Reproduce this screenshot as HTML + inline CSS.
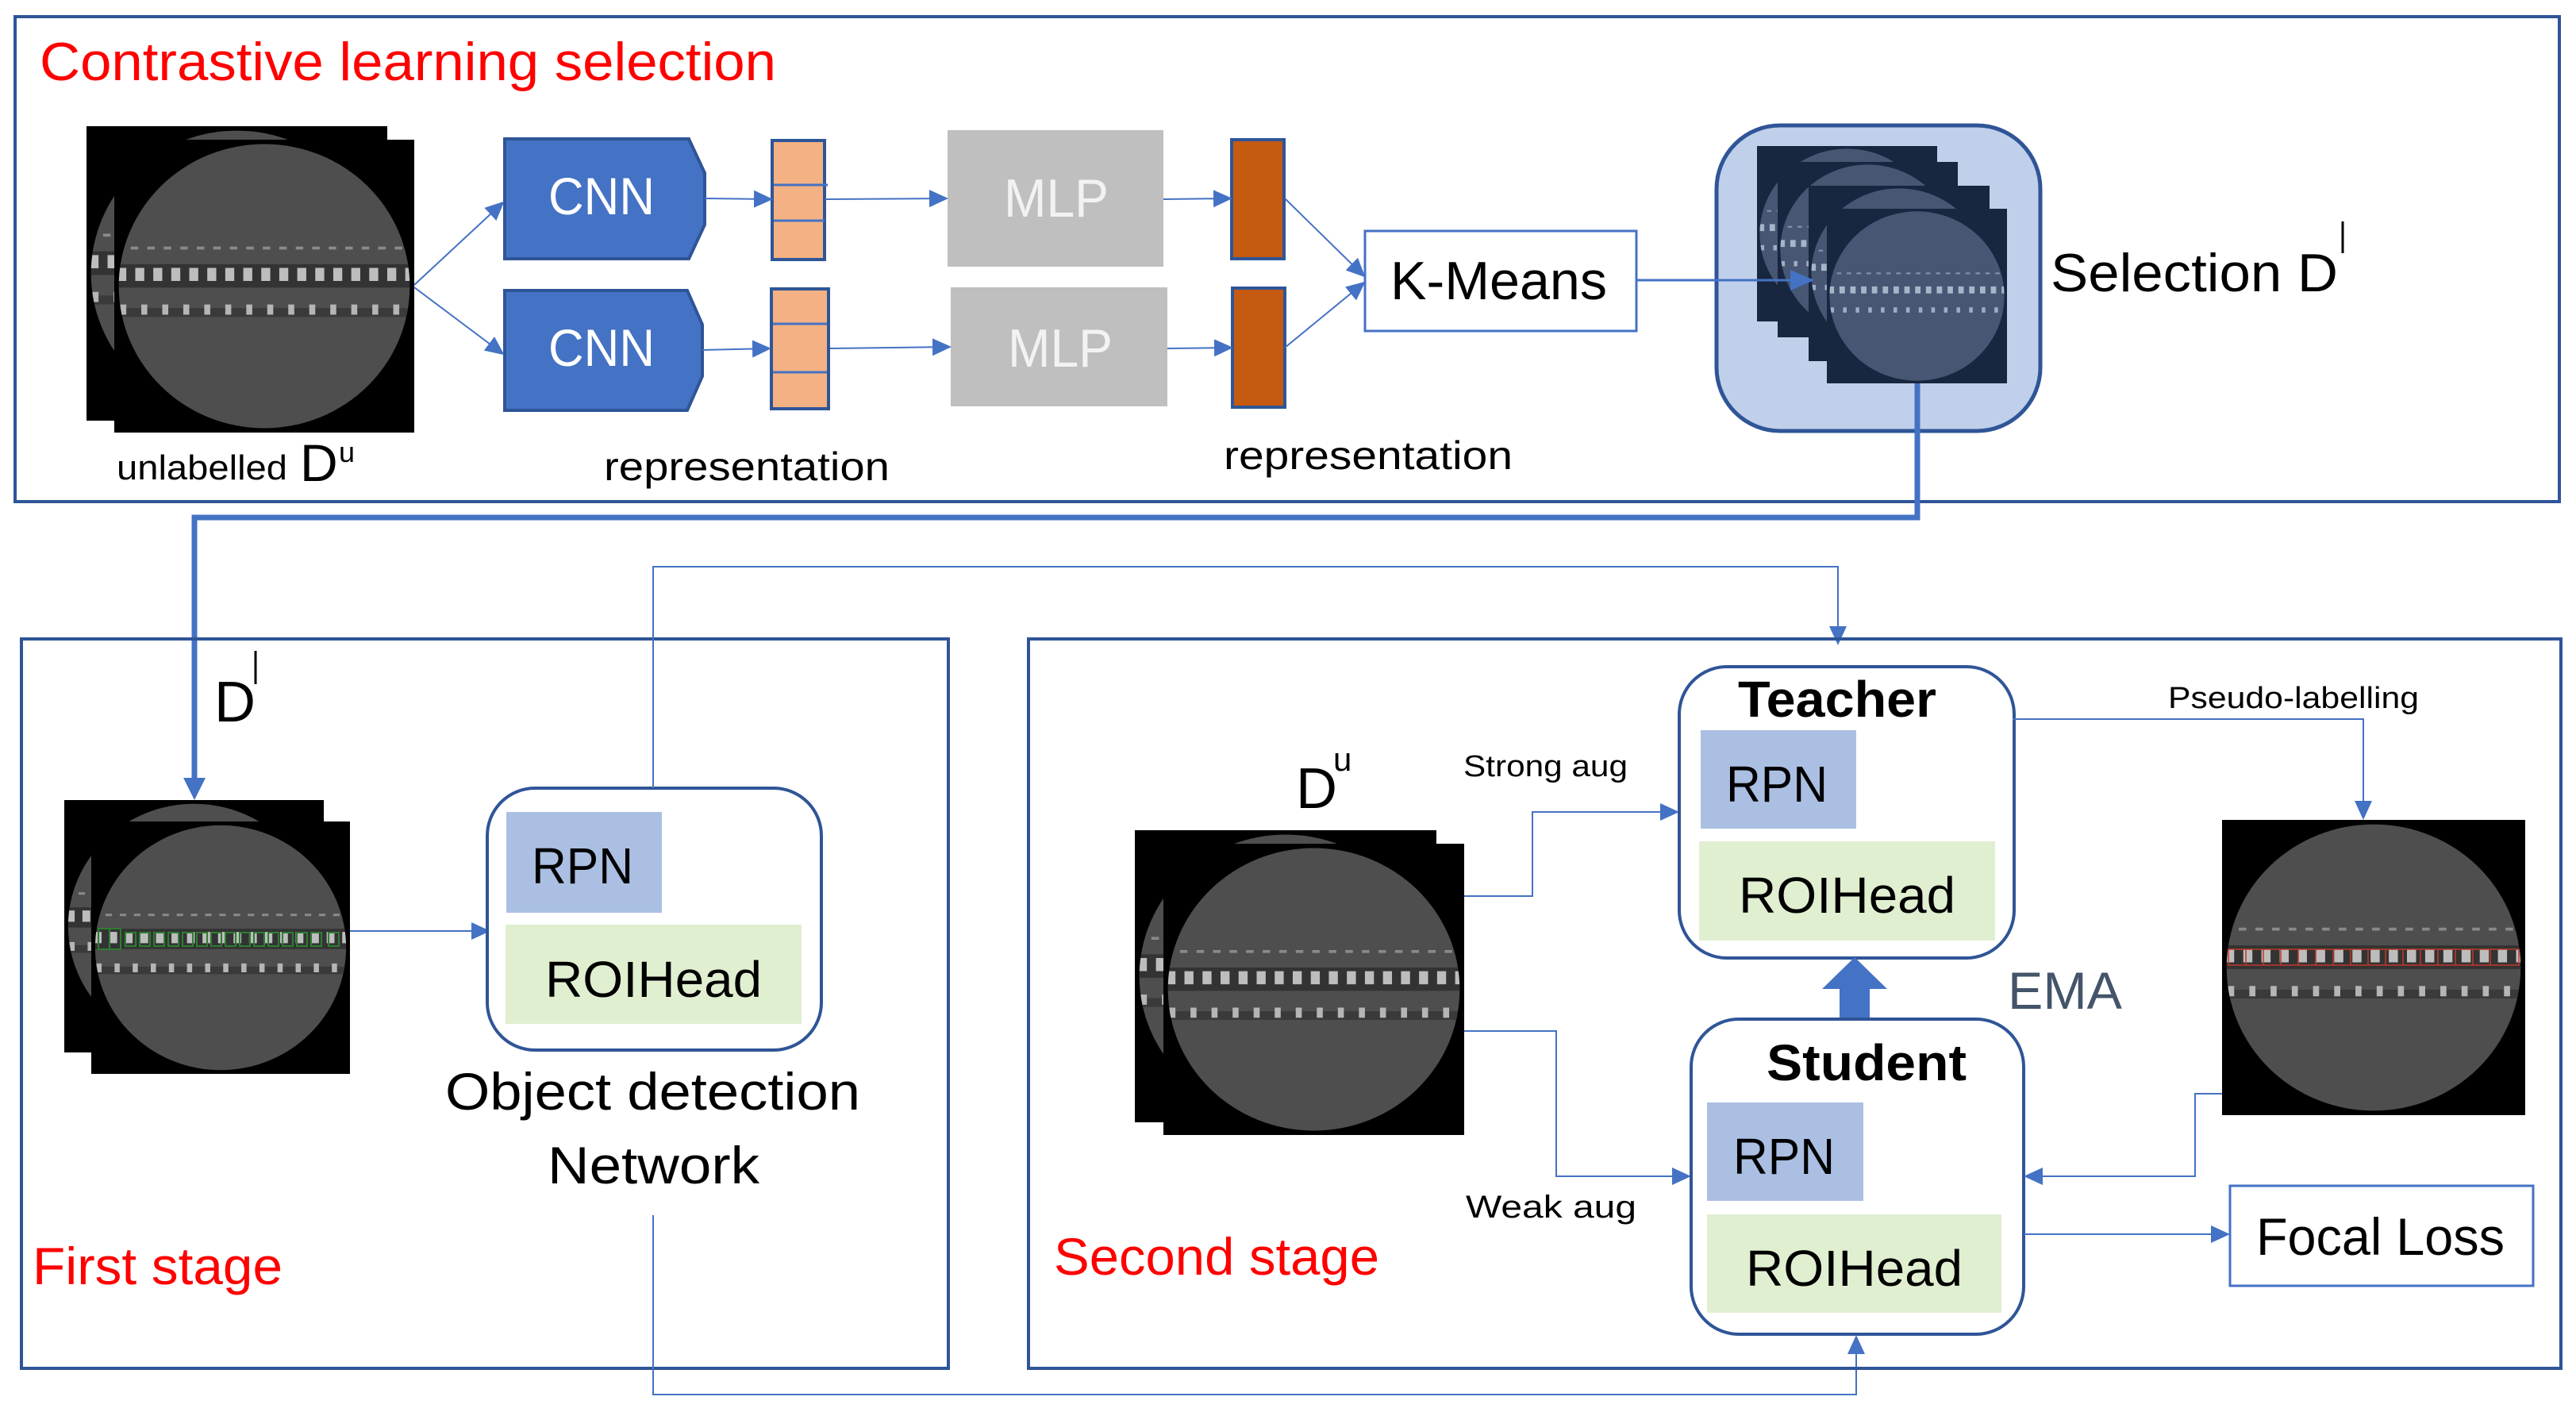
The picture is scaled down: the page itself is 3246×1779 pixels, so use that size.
<!DOCTYPE html>
<html><head><meta charset="utf-8"><style>
html,body{margin:0;padding:0;background:#fff;}
svg{display:block;}
text{font-family:"Liberation Sans",sans-serif;}
</style></head><body>
<svg width="3246" height="1779" viewBox="0 0 3246 1779" xmlns="http://www.w3.org/2000/svg">
<defs>
<marker id="ah" markerUnits="userSpaceOnUse" markerWidth="24" markerHeight="24" refX="22" refY="12" orient="auto" viewBox="0 0 24 24"><path d="M0,1 L24,12 L0,23 Z" fill="#4472c4"/></marker>
<marker id="ahb" markerUnits="userSpaceOnUse" markerWidth="30" markerHeight="30" refX="28" refY="15" orient="auto" viewBox="0 0 30 30"><path d="M0,2 L30,15 L0,28 Z" fill="#4472c4"/></marker>
<clipPath id="cc"><circle cx="50" cy="50" r="48.5"/></clipPath>
<symbol id="ct" viewBox="0 0 100 100" preserveAspectRatio="none">
<rect width="100" height="100" fill="#000"/>
<circle cx="50" cy="50" r="48.5" fill="#4e4e4e"/>
<g clip-path="url(#cc)">
<line x1="0" y1="37" x2="100" y2="37" stroke="#8a8a8a" stroke-width="1" stroke-dasharray="2.5 3"/>
<line x1="0" y1="46.5" x2="100" y2="46.5" stroke="#333" stroke-width="8"/>
<line x1="1" y1="46" x2="100" y2="46" stroke="#bdbdbd" stroke-width="4.5" stroke-dasharray="3 3"/>
<line x1="0" y1="59" x2="100" y2="59" stroke="#3a3a3a" stroke-width="3"/>
<line x1="2" y1="58" x2="100" y2="58" stroke="#b5b5b5" stroke-width="3.5" stroke-dasharray="2 5"/>
</g>
</symbol>
<symbol id="ctn" viewBox="0 0 100 100" preserveAspectRatio="none">
<rect width="100" height="100" fill="#18273f"/>
<circle cx="50" cy="50" r="48.5" fill="#465673"/>
<g clip-path="url(#cc)">
<line x1="0" y1="37" x2="100" y2="37" stroke="#8090aa" stroke-width="1" stroke-dasharray="2.5 3"/>
<line x1="1" y1="46.5" x2="100" y2="46.5" stroke="#a8b4c8" stroke-width="4" stroke-dasharray="3 3"/>
<line x1="2" y1="58" x2="100" y2="58" stroke="#a0acc2" stroke-width="3" stroke-dasharray="2 5"/>
</g>
</symbol>
</defs>

<rect x="19" y="21" width="3206" height="611" fill="none" stroke="#2f5597" stroke-width="4"/>
<text x="50" y="101" font-size="68" fill="#ff0000" textLength="928" lengthAdjust="spacingAndGlyphs">Contrastive learning selection</text>

<use href="#ct" x="109" y="159" width="379" height="371"/>
<use href="#ct" x="144" y="176" width="378" height="369"/>
<text x="147" y="604" font-size="44" fill="#000" textLength="215" lengthAdjust="spacingAndGlyphs">unlabelled</text>
<text x="378" y="606" font-size="66" fill="#000">D</text>
<text x="427" y="582" font-size="36" fill="#000">u</text>

<path d="M636,175 L868,175 L888,218 L888,283 L868,326 L636,326 Z" fill="#4472c4" stroke="#2f5597" stroke-width="4"/>
<path d="M636,366 L866,366 L885,409 L885,474 L866,517 L636,517 Z" fill="#4472c4" stroke="#2f5597" stroke-width="4"/>
<text x="691" y="270" font-size="66" fill="#fff" textLength="134" lengthAdjust="spacingAndGlyphs">CNN</text>
<text x="691" y="461" font-size="66" fill="#fff" textLength="134" lengthAdjust="spacingAndGlyphs">CNN</text>

<rect x="973" y="177" width="66" height="150" fill="#f4b183" stroke="#2f5597" stroke-width="4"/>
<line x1="975" y1="233" x2="1043" y2="233" stroke="#4472c4" stroke-width="3"/>
<line x1="975" y1="278" x2="1039" y2="278" stroke="#4472c4" stroke-width="3"/>
<rect x="972" y="364" width="72" height="151" fill="#f4b183" stroke="#2f5597" stroke-width="4"/>
<line x1="974" y1="408" x2="1042" y2="408" stroke="#4472c4" stroke-width="3"/>
<line x1="974" y1="469" x2="1042" y2="469" stroke="#4472c4" stroke-width="3"/>

<rect x="1194" y="164" width="272" height="172" fill="#bfbfbf"/>
<rect x="1198" y="362" width="273" height="150" fill="#bfbfbf"/>
<text x="1265" y="273" font-size="68" fill="#f2f2f2" textLength="132" lengthAdjust="spacingAndGlyphs">MLP</text>
<text x="1270" y="462" font-size="68" fill="#f2f2f2" textLength="132" lengthAdjust="spacingAndGlyphs">MLP</text>

<rect x="1552" y="176" width="66" height="150" fill="#c55a11" stroke="#2f5597" stroke-width="4"/>
<rect x="1553" y="363" width="66" height="150" fill="#c55a11" stroke="#2f5597" stroke-width="4"/>

<text x="761" y="605" font-size="50" fill="#000" textLength="360" lengthAdjust="spacingAndGlyphs">representation</text>
<text x="1542" y="591" font-size="50" fill="#000" textLength="364" lengthAdjust="spacingAndGlyphs">representation</text>

<g stroke="#4472c4" stroke-width="2" fill="none">
<line x1="522" y1="359" x2="634" y2="255" marker-end="url(#ah)"/>
<line x1="522" y1="362" x2="634" y2="446" marker-end="url(#ah)"/>
<line x1="888" y1="250" x2="972" y2="251" marker-end="url(#ah)"/>
<line x1="1040" y1="251" x2="1193" y2="250" marker-end="url(#ah)"/>
<line x1="1466" y1="251" x2="1551" y2="250" marker-end="url(#ah)"/>
<line x1="885" y1="441" x2="970" y2="439" marker-end="url(#ah)"/>
<line x1="1046" y1="439" x2="1197" y2="437" marker-end="url(#ah)"/>
<line x1="1471" y1="439" x2="1552" y2="438" marker-end="url(#ah)"/>
<line x1="1619" y1="250" x2="1719" y2="348" marker-end="url(#ah)"/>
<line x1="1619" y1="438" x2="1719" y2="356" marker-end="url(#ah)"/>
</g>

<rect x="1720" y="291" width="342" height="126" fill="#fff" stroke="#4472c4" stroke-width="3"/>
<text x="1752" y="377" font-size="68" fill="#000" textLength="273" lengthAdjust="spacingAndGlyphs">K-Means</text>

<rect x="2163" y="158" width="408" height="385" rx="80" fill="#c0d0ea" stroke="#2f5597" stroke-width="5"/>
<use href="#ctn" x="2214" y="184" width="227" height="221"/>
<use href="#ctn" x="2240" y="204" width="227" height="221"/>
<use href="#ctn" x="2279" y="234" width="228" height="221"/>
<use href="#ctn" x="2302" y="263" width="227" height="220"/>
<line x1="2062" y1="353" x2="2284" y2="353" stroke="#4472c4" stroke-width="3" marker-end="url(#ahb)"/>
<text x="2584" y="367" font-size="68" fill="#000" textLength="362" lengthAdjust="spacingAndGlyphs">Selection D</text>
<line x1="2952" y1="279" x2="2952" y2="319" stroke="#000" stroke-width="3"/>

<polyline points="2416,483 2416,652 245,652 245,985" fill="none" stroke="#4472c4" stroke-width="7"/>
<path d="M231,980 L259,980 L245,1008 Z" fill="#4472c4"/>

<rect x="27" y="805" width="1168" height="919" fill="none" stroke="#2f5597" stroke-width="4"/>
<text x="270" y="909" font-size="72" fill="#000">D</text>
<line x1="322" y1="820" x2="322" y2="862" stroke="#000" stroke-width="3"/>
<use href="#ct" x="81" y="1008" width="327" height="318"/>
<use href="#ct" x="115" y="1035" width="326" height="318"/>
<g fill="none" stroke="#2e7d32" stroke-width="2">
<rect x="124" y="1170" width="14" height="26"/><rect x="138" y="1170" width="14" height="26"/>
<rect x="158" y="1175" width="13" height="17"/><rect x="176" y="1175" width="13" height="17"/><rect x="194" y="1175" width="13" height="17"/><rect x="212" y="1175" width="13" height="17"/><rect x="230" y="1175" width="13" height="17"/><rect x="248" y="1175" width="13" height="17"/><rect x="266" y="1175" width="13" height="17"/><rect x="284" y="1175" width="13" height="17"/><rect x="302" y="1175" width="13" height="17"/><rect x="320" y="1175" width="13" height="17"/><rect x="338" y="1175" width="13" height="17"/><rect x="356" y="1175" width="13" height="17"/><rect x="374" y="1175" width="13" height="17"/><rect x="392" y="1175" width="13" height="17"/><rect x="414" y="1175" width="13" height="17"/>
</g>
<line x1="441" y1="1173" x2="616" y2="1173" stroke="#4472c4" stroke-width="2" marker-end="url(#ah)"/>

<rect x="614" y="993" width="421" height="330" rx="60" fill="#fff" stroke="#2f5597" stroke-width="4"/>
<rect x="638" y="1023" width="196" height="127" fill="#abbfe3"/>
<text x="670" y="1113" font-size="64" fill="#000" textLength="128" lengthAdjust="spacingAndGlyphs">RPN</text>
<rect x="637" y="1165" width="373" height="125" fill="#e0efd0"/>
<text x="687" y="1256" font-size="64" fill="#000" textLength="273" lengthAdjust="spacingAndGlyphs">ROIHead</text>
<text x="561" y="1398" font-size="66" fill="#000" textLength="523" lengthAdjust="spacingAndGlyphs">Object detection</text>
<text x="690" y="1491" font-size="66" fill="#000" textLength="267" lengthAdjust="spacingAndGlyphs">Network</text>
<text x="41" y="1618" font-size="66" fill="#ff0000" textLength="315" lengthAdjust="spacingAndGlyphs">First stage</text>

<polyline points="823,993 823,714 2316,714 2316,811" fill="none" stroke="#4472c4" stroke-width="2" marker-end="url(#ah)"/>
<polyline points="823,1531 823,1757 2339,1757 2339,1684" fill="none" stroke="#4472c4" stroke-width="2" marker-end="url(#ah)"/>

<rect x="1296" y="805" width="1931" height="919" fill="none" stroke="#2f5597" stroke-width="4"/>
<text x="1633" y="1018" font-size="72" fill="#000">D</text>
<text x="1680" y="971" font-size="42" fill="#000">u</text>
<use href="#ct" x="1430" y="1046" width="380" height="368"/>
<use href="#ct" x="1466" y="1063" width="379" height="367"/>

<text x="1844" y="978" font-size="38" fill="#000" textLength="207" lengthAdjust="spacingAndGlyphs">Strong aug</text>
<text x="1847" y="1534" font-size="40" fill="#000" textLength="215" lengthAdjust="spacingAndGlyphs">Weak  aug</text>
<polyline points="1845,1129 1931,1129 1931,1023 2114,1023" fill="none" stroke="#4472c4" stroke-width="2" marker-end="url(#ah)"/>
<polyline points="1845,1299 1961,1299 1961,1482 2129,1482" fill="none" stroke="#4472c4" stroke-width="2" marker-end="url(#ah)"/>

<rect x="2116" y="840" width="422" height="367" rx="60" fill="#fff" stroke="#2f5597" stroke-width="4"/>
<text x="2190" y="903" font-size="64" font-weight="bold" fill="#000" textLength="250" lengthAdjust="spacingAndGlyphs">Teacher</text>
<rect x="2143" y="920" width="196" height="124" fill="#abbfe3"/>
<text x="2175" y="1010" font-size="64" fill="#000" textLength="128" lengthAdjust="spacingAndGlyphs">RPN</text>
<rect x="2141" y="1060" width="373" height="125" fill="#e0efd0"/>
<text x="2191" y="1150" font-size="64" fill="#000" textLength="273" lengthAdjust="spacingAndGlyphs">ROIHead</text>

<path d="M2318,1284 L2318,1246 L2296,1246 L2337,1206 L2378,1246 L2356,1246 L2356,1284 Z" fill="#4472c4"/>
<text x="2530" y="1271" font-size="66" fill="#44546a" textLength="144" lengthAdjust="spacingAndGlyphs">EMA</text>

<rect x="2131" y="1284" width="419" height="397" rx="60" fill="#fff" stroke="#2f5597" stroke-width="4"/>
<text x="2226" y="1361" font-size="64" font-weight="bold" fill="#000" textLength="252" lengthAdjust="spacingAndGlyphs">Student</text>
<rect x="2151" y="1389" width="197" height="124" fill="#abbfe3"/>
<text x="2184" y="1479" font-size="64" fill="#000" textLength="128" lengthAdjust="spacingAndGlyphs">RPN</text>
<rect x="2151" y="1530" width="371" height="124" fill="#e0efd0"/>
<text x="2200" y="1620" font-size="64" fill="#000" textLength="273" lengthAdjust="spacingAndGlyphs">ROIHead</text>

<text x="2732" y="892" font-size="38" fill="#000" textLength="316" lengthAdjust="spacingAndGlyphs">Pseudo-labelling</text>
<polyline points="2536,906 2978,906 2978,1031" fill="none" stroke="#4472c4" stroke-width="2" marker-end="url(#ah)"/>
<use href="#ct" x="2800" y="1033" width="382" height="372"/>
<g fill="none" stroke="#c0392b" stroke-width="1.5">
<rect x="2808" y="1196" width="366" height="20"/>
<line x1="2830" y1="1196" x2="2830" y2="1216"/><line x1="2852" y1="1196" x2="2852" y2="1216"/><line x1="2874" y1="1196" x2="2874" y2="1216"/><line x1="2896" y1="1196" x2="2896" y2="1216"/><line x1="2918" y1="1196" x2="2918" y2="1216"/><line x1="2940" y1="1196" x2="2940" y2="1216"/><line x1="2962" y1="1196" x2="2962" y2="1216"/><line x1="2984" y1="1196" x2="2984" y2="1216"/><line x1="3006" y1="1196" x2="3006" y2="1216"/><line x1="3028" y1="1196" x2="3028" y2="1216"/><line x1="3050" y1="1196" x2="3050" y2="1216"/><line x1="3072" y1="1196" x2="3072" y2="1216"/><line x1="3094" y1="1196" x2="3094" y2="1216"/><line x1="3116" y1="1196" x2="3116" y2="1216"/><line x1="3138" y1="1196" x2="3138" y2="1216"/>
</g>
<polyline points="2800,1378 2766,1378 2766,1482 2552,1482" fill="none" stroke="#4472c4" stroke-width="2" marker-end="url(#ah)"/>
<line x1="2550" y1="1555" x2="2808" y2="1555" stroke="#4472c4" stroke-width="2" marker-end="url(#ah)"/>
<rect x="2810" y="1494" width="382" height="126" fill="#fff" stroke="#4472c4" stroke-width="3"/>
<text x="2843" y="1581" font-size="66" fill="#000" textLength="313" lengthAdjust="spacingAndGlyphs">Focal Loss</text>
<text x="1328" y="1606" font-size="66" fill="#ff0000" textLength="410" lengthAdjust="spacingAndGlyphs">Second stage</text>
</svg>
</body></html>
